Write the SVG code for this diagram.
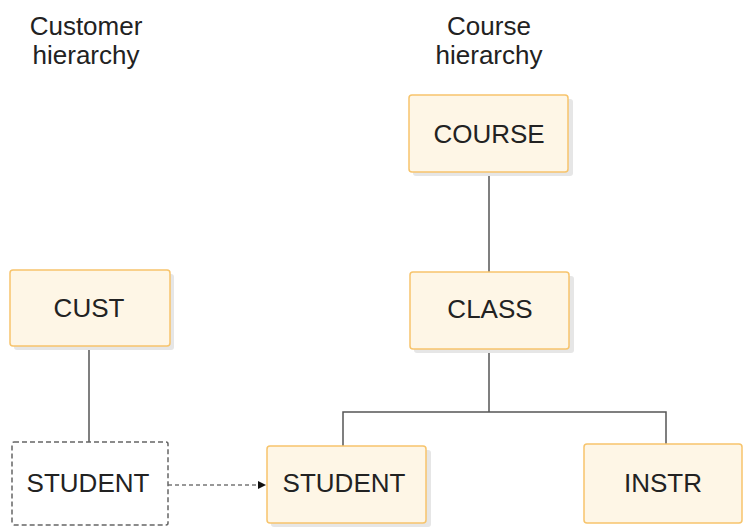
<svg xmlns="http://www.w3.org/2000/svg" width="744" height="527" viewBox="0 0 744 527">
<defs>
<style>
.box{fill:#fef6e6;stroke:#f7c46c;stroke-width:1.5}
.sh{fill:#e6e6e6}
.t{font-family:"Liberation Sans",Arial,sans-serif;font-size:26px;fill:#222;text-anchor:middle}
.ln{stroke:#555;stroke-width:1.5;fill:none}
</style>
<marker id="ah" viewBox="0 0 10 10" refX="10" refY="5" markerWidth="8" markerHeight="8" orient="auto" markerUnits="userSpaceOnUse"><path d="M0,0 L10,5 L0,10 z" fill="#111"/></marker>
</defs>
<rect width="744" height="527" fill="#fff"/>
<text class="t" x="86" y="35">Customer</text>
<text class="t" x="86" y="64">hierarchy</text>
<text class="t" x="489" y="35">Course</text>
<text class="t" x="489" y="64">hierarchy</text>
<g id="connectors">
<line class="ln" x1="489" y1="172" x2="489" y2="272"/>
<polyline class="ln" points="343,446 343,412 666,412 666,444"/>
<line class="ln" x1="489" y1="349" x2="489" y2="412"/>
<line class="ln" x1="89" y1="346" x2="89" y2="442"/>
<line x1="168" y1="485" x2="266" y2="485" stroke="#333" stroke-width="1.2" stroke-dasharray="4,3" marker-end="url(#ah)"/>
</g>
<g id="course">
<rect class="sh" x="413" y="99" width="160" height="77" rx="3"/>
<rect class="box" x="409" y="95" width="159" height="77" rx="3"/>
<text class="t" x="489" y="143">COURSE</text>
</g>
<g id="class">
<rect class="sh" x="414" y="276" width="160" height="77" rx="3"/>
<rect class="box" x="410" y="272" width="159" height="77" rx="3"/>
<text class="t" x="490" y="318">CLASS</text>
</g>
<g id="cust">
<rect class="sh" x="14" y="274" width="160" height="76" rx="3"/>
<rect class="box" x="10" y="270" width="160" height="76" rx="3"/>
<text class="t" x="89" y="317">CUST</text>
</g>
<g id="student-left">
<rect x="12" y="442" width="156" height="83" fill="#fff" stroke="#666" stroke-width="1.5" stroke-dasharray="5,3" rx="2"/>
<text class="t" x="88" y="492">STUDENT</text>
</g>
<g id="student">
<rect class="sh" x="271" y="450" width="160" height="77" rx="3"/>
<rect class="box" x="267" y="446" width="159" height="77" rx="3"/>
<text class="t" x="344" y="492">STUDENT</text>
</g>
<g id="instr">
<rect class="box" x="584" y="444" width="158" height="79" rx="3"/>
<text class="t" x="663" y="492">INSTR</text>
</g>
</svg>
